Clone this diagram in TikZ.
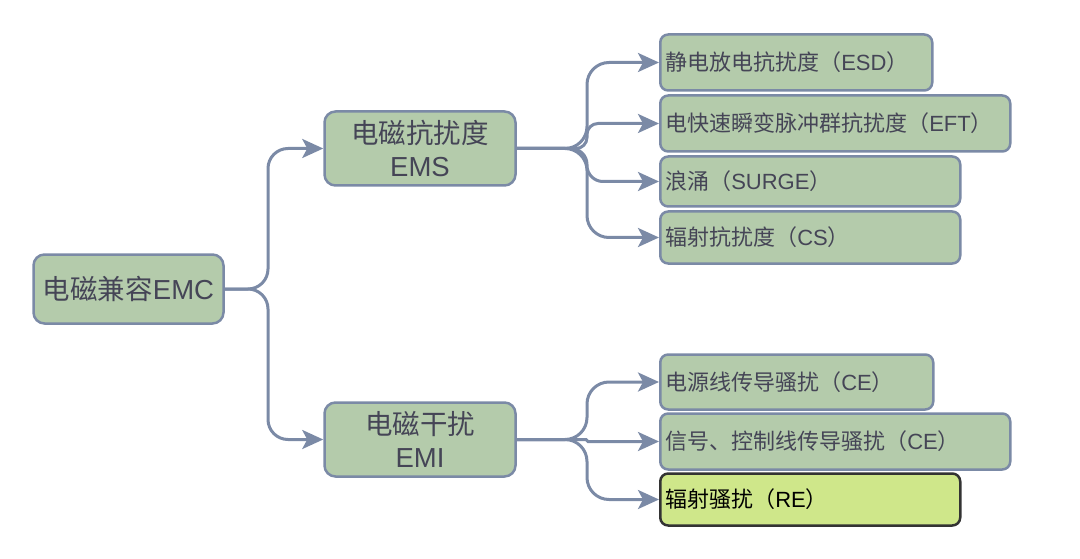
\documentclass[tikz,border=0pt]{standalone}
\usepackage{fontspec}
\setmainfont{Liberation Sans}
\newfontfamily\cjk{Noto Sans CJK SC}
\usetikzlibrary{arrows.meta}
\definecolor{boxfill}{HTML}{B4CBAB}
\definecolor{boxline}{HTML}{7B8AA6}
\definecolor{txt}{HTML}{454556}
\definecolor{refill}{HTML}{CFE78A}
\definecolor{reline}{HTML}{333333}
\tikzset{
  mainbox/.style={draw=boxline, fill=boxfill, line width=2.5pt, rounded corners=11pt,
    text=txt, align=center, inner sep=0pt, minimum width=191pt, minimum height=74pt,
    font=\fontsize{27.5}{33}\selectfont},
  leaf/.style={draw=boxline, fill=boxfill, line width=2.5pt, rounded corners=8pt,
    text=txt, align=left, anchor=west, inner xsep=5pt, inner ysep=0pt,
    font=\fontsize{22}{26}\selectfont},
  conn/.style={draw=boxline, line width=3pt, -{Stealth[length=21pt,width=19pt,inset=5pt]}},
}
\begin{document}
\begin{tikzpicture}[x=1pt,y=-1pt]
\useasboundingbox (0,0) rectangle (1080,559);
% main nodes
\node[mainbox, minimum width=190pt, minimum height=69pt] (EMC) at (128.5,289) {{\cjk 电磁兼容}EMC};
\node[mainbox] (EMS) at (420,148.5) {{\cjk 电磁抗扰度}\\EMS};
\node[mainbox] (EMI) at (420,439.5) {{\cjk 电磁干扰}\\EMI};
% leaves
\node[leaf, text width=262pt, minimum height=56pt] (ESD) at (659,62.5) {\cjk 静电放电抗扰度（\normalfont ESD\cjk ）};
\node[leaf, text width=340pt, minimum height=56pt] (EFT) at (659,123.5) {\cjk 电快速瞬变脉冲群抗扰度（\normalfont EFT\cjk ）};
\node[leaf, text width=290pt, minimum height=50pt] (SURGE) at (659,181.5) {\cjk 浪涌（\normalfont SURGE\cjk ）};
\node[leaf, text width=290pt, minimum height=52pt] (CS) at (659,237.5) {\cjk 辐射抗扰度（\normalfont CS\cjk ）};
\node[leaf, text width=263pt, minimum height=55pt] (CE1) at (659,382) {\cjk 电源线传导骚扰（\normalfont CE\cjk ）};
\node[leaf, text width=340pt, minimum height=56pt] (CE2) at (659,441.5) {\cjk 信号、控制线传导骚扰（\normalfont CE\cjk ）};
\node[leaf, text width=290pt, minimum height=52pt, fill=refill, draw=reline, text=black] (RE) at (659,499.5) {\cjk 辐射骚扰（\normalfont RE\cjk ）};
% bus coordinates
\coordinate (b0) at (268,0);
\coordinate (b1) at (587,0);
% connectors
\draw[conn, rounded corners=20pt] (EMC.east) -| (b0 |- EMS.west) -- (EMS.west);
\draw[conn, rounded corners=20pt] (EMC.east) -| (b0 |- EMI.west) -- (EMI.west);
\draw[conn, rounded corners=22pt] (EMS.east) -| (b1 |- ESD.west) -- (ESD.west);
\draw[conn, rounded corners=11pt] (EMS.east) -| (b1 |- EFT.west) -- (EFT.west);
\draw[conn, rounded corners=16pt] (EMS.east) -| (b1 |- SURGE.west) -- (SURGE.west);
\draw[conn, rounded corners=22pt] (EMS.east) -| (b1 |- CS.west) -- (CS.west);
\draw[conn, rounded corners=22pt] (EMI.east) -| (b1 |- CE1.west) -- (CE1.west);
\draw[conn, rounded corners=1pt] (EMI.east) -| (b1 |- CE2.west) -- (CE2.west);
\draw[conn, rounded corners=22pt] (EMI.east) -| (b1 |- RE.west) -- (RE.west);
\end{tikzpicture}
\end{document}
